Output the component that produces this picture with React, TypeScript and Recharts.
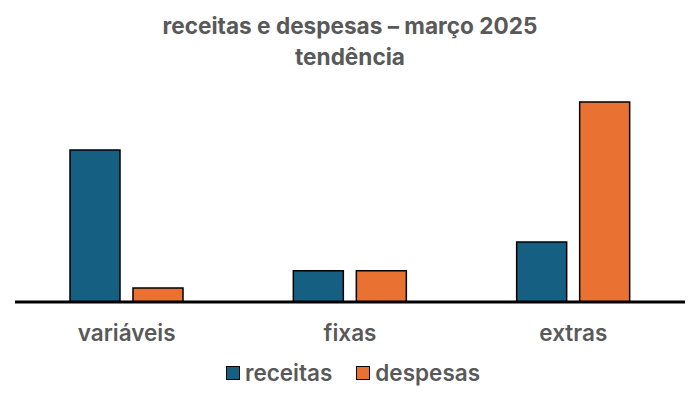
import React from "react";
import { BarChart, Bar, XAxis, YAxis, Legend } from "recharts";

const categories = ["variáveis", "fixas", "extras"];
const receitas = [3800, 780, 1500];
const despesas = [350, 780, 5000];
const seriesNames = ["receitas", "despesas"];
const colors = ["#156082", "#E97132"];

const data = categories.map((c, i) => ({ cat: c, receitas: receitas[i], despesas: despesas[i] }));

const FONT = "Inter, 'Noto Sans', sans-serif";
const TEXT = "#595959";

const LegendContent = () => (
  <div style={{ display: "flex", justifyContent: "center", alignItems: "center", fontFamily: FONT, fontWeight: 600, fontSize: 22.5, color: TEXT, marginLeft: 6 }}>
    {seriesNames.map((n, i) => (
      <div key={n} style={{ display: "flex", alignItems: "center", marginLeft: i ? 24 : 0 }}>
        <span style={{ width: 12, height: 12, background: colors[i], border: "1.5px solid #000", display: "inline-block", marginRight: 5 }} />
        <span>{n}</span>
      </div>
    ))}
  </div>
);

export default function App() {
  return (
    <div style={{ position: "absolute", left: 0, top: 0, width: 700, height: 400, background: "#fff" }}>
      <div style={{ position: "absolute", left: 0, top: 10, width: 700, textAlign: "center", fontFamily: FONT, fontWeight: 700, fontSize: 22.6, color: TEXT, lineHeight: "31px" }}>
        <div>receitas e despesas – março 2025</div>
        <div>tendência</div>
      </div>
      <BarChart width={700} height={400} data={data} margin={{ top: 102, right: 15, left: 15, bottom: 1 }} barSize={50} barGap={13}>
        <XAxis dataKey="cat" axisLine={{ stroke: "#000", strokeWidth: 3 }} tickLine={false} height={57}
          tick={{ fill: TEXT, fontSize: 22.5, fontWeight: 600, fontFamily: FONT }} tickMargin={17} />
        <YAxis hide domain={[0, 5000]} />
        <Legend verticalAlign="bottom" height={40} content={<LegendContent />} />
        <Bar dataKey="receitas" fill={colors[0]} stroke="#000" strokeWidth={1.5} isAnimationActive={false} />
        <Bar dataKey="despesas" fill={colors[1]} stroke="#000" strokeWidth={1.5} isAnimationActive={false} />
      </BarChart>
    </div>
  );
}
